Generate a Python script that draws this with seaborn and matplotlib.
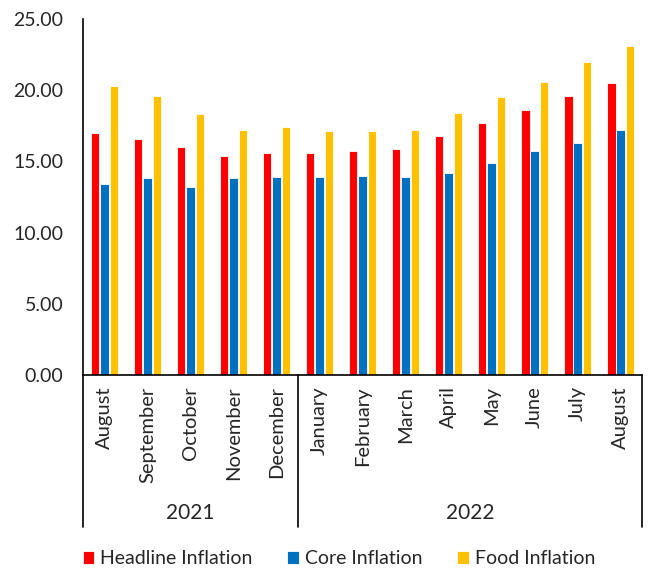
# Load Libraries
import pandas as pd
import matplotlib
matplotlib.use('Agg')
import matplotlib.pyplot as plt
import matplotlib.transforms as mtransforms
import seaborn as sb

# Monthly inflation (%), Aug 2021 - Aug 2022
months = ['August', 'September', 'October', 'November', 'December',
          'January', 'February', 'March', 'April', 'May', 'June', 'July', 'August']
years = ['2021', '2022']
year_counts = [5, 8]
headline = [17.0, 16.6, 16.0, 15.4, 15.6, 15.6, 15.7, 15.9, 16.8, 17.7, 18.6, 19.6, 20.5]
core = [13.4, 13.8, 13.2, 13.8, 13.9, 13.9, 14.0, 13.9, 14.2, 14.9, 15.7, 16.3, 17.2]
food = [20.3, 19.6, 18.3, 17.2, 17.4, 17.1, 17.1, 17.2, 18.4, 19.5, 20.6, 22.0, 23.1]
series = ['Headline Inflation', 'Core Inflation', 'Food Inflation']
colors = ['#FF0000', '#0070C0', '#FFC000']

sb.set_style('white')
plt.rcParams['font.family'] = ['Lato', 'DejaVu Sans']

# Unique key per category (August appears twice)
keys = [f'{i:02d}' for i in range(len(months))]
df = pd.DataFrame({
    'key': keys * 3,
    'value': headline + core + food,
    'series': [s for s in series for _ in months],
})

fig = plt.figure(figsize=(6.48, 5.71), dpi=100)
ax = fig.add_axes([0.128, 0.343, 0.863, 0.624])

sb.barplot(data=df, x='key', y='value', hue='series', hue_order=series,
           palette=colors, saturation=1, width=0.66, gap=0.08,
           edgecolor='white', linewidth=0.6, ax=ax, legend=True)

ax.set_ylim(0, 25)
ax.set_xlim(-0.5, len(months) - 0.5)
ax.set_yticks(range(0, 26, 5))
ax.set_yticklabels([f'{v:.2f}' for v in range(0, 26, 5)], fontsize=14)
ax.set_xticks(range(len(months)))
ax.set_xticklabels(months, rotation=90, fontsize=14.5)
ax.tick_params(axis='y', length=0, pad=14)
ax.tick_params(axis='x', length=0, pad=8)
ax.set_xlabel('')
ax.set_ylabel('')

for side in ['top', 'right']:
    ax.spines[side].set_visible(False)
for side in ['left', 'bottom']:
    ax.spines[side].set_color('black')
    ax.spines[side].set_linewidth(1.2)

# Two-level category axis: separators and year labels
trans = mtransforms.blended_transform_factory(ax.transData, ax.transAxes)
start = 0
edges = [-0.5]
for yr, n in zip(years, year_counts):
    end = start + n
    edges.append(end - 0.5)
    ax.text((start + end - 1) / 2, -0.388, yr, transform=trans,
            ha='center', va='center', fontsize=15)
    start = end
for e in edges:
    ax.plot([e, e], [0, -0.427], transform=trans, color='black',
            lw=1.2, clip_on=False)

handles, labels = ax.get_legend_handles_labels()
ax.legend_.remove()
fig.legend(handles, labels, loc='lower center', bbox_to_anchor=(0.523, -0.024),
           ncol=3, frameon=False, fontsize=14, handlelength=0.6,
           handleheight=0.7, handletextpad=0.3, columnspacing=1.8)

plt.savefig('out.png', dpi=100)
